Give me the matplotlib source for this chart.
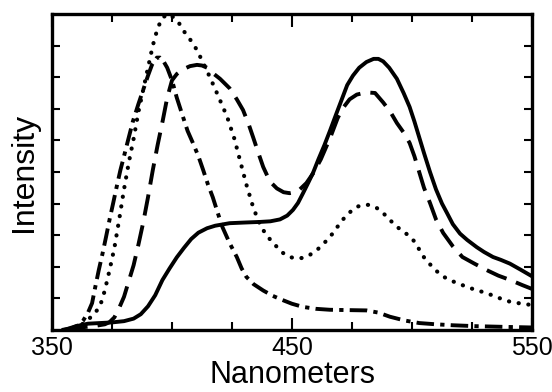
import numpy as np
import matplotlib.pyplot as plt
from matplotlib.ticker import MultipleLocator

plt.rcParams['font.family'] = ['Liberation Sans', 'DejaVu Sans']

# Emission spectra (intensity in arbitrary units, 0-10)
solid_x = [355, 360, 365, 370, 375, 380, 384, 387, 390, 393, 396, 399, 402, 405, 408, 411,
           414.6, 418, 424, 430, 436.7, 441, 445, 448, 450.4, 452.5, 454.6, 456.7, 458.75,
           461, 463.5, 465.8, 468.5, 471, 473, 475.4, 478, 481, 484, 486, 488, 490.5, 493.7,
           496.5, 499, 501, 503, 505, 507.5, 510, 512.5, 514.6, 517, 520, 523, 527, 530,
           533.75, 537, 540.8, 545, 550]
solid_y = [0, 0.12, 0.2, 0.22, 0.24, 0.28, 0.36, 0.5, 0.75, 1.1, 1.58, 1.95, 2.3, 2.6, 2.88, 3.08,
           3.22, 3.3, 3.38, 3.4, 3.42, 3.44, 3.5, 3.62, 3.8, 4.02, 4.33, 4.65, 4.97,
           5.4, 5.85, 6.3, 6.85, 7.35, 7.75, 8.05, 8.3, 8.48, 8.58, 8.58, 8.5, 8.3, 7.95,
           7.5, 7.06, 6.6, 6.1, 5.6, 5.0, 4.45, 4.0, 3.7, 3.35, 3.05, 2.85, 2.62, 2.47,
           2.31, 2.22, 2.1, 1.92, 1.7]

dashed_x = [356, 362, 368, 372, 374, 376, 378, 380, 382, 384, 386, 388, 390, 392, 394, 396.2,
            398, 400, 402, 404.6, 407.5, 410.4, 412.5, 414.6, 417, 420, 424, 427, 429.6, 432,
            433.8, 436, 438, 440.8, 443.7, 446.5, 449, 451, 453, 456, 459, 462, 466, 469, 471,
            474, 477, 481, 484.6, 488, 491, 493.7, 496.5, 499, 501, 503, 505, 507.5, 510, 513,
            517, 521, 526, 531, 536, 541, 546, 550]
dashed_y = [0, 0.08, 0.13, 0.18, 0.25, 0.4, 0.7, 1.05, 1.55, 2.05, 2.7, 3.4, 4.2, 5.06, 5.85, 6.65,
            7.35, 7.9, 8.1, 8.25, 8.35, 8.39, 8.37, 8.3, 8.13, 7.95, 7.65, 7.3, 6.96, 6.5,
            6.1, 5.6, 5.16, 4.7, 4.48, 4.36, 4.33, 4.36, 4.43, 4.65, 4.98, 5.4, 6.1, 6.7, 7.0,
            7.3, 7.45, 7.52, 7.5, 7.2, 6.9, 6.55, 6.25, 5.92, 5.5, 5.0, 4.5, 4.02, 3.5, 3.07,
            2.65, 2.31, 2.1, 1.9, 1.72, 1.58, 1.42, 1.3]

dotted_x = [355, 359, 362, 365, 368, 370, 372, 374, 376, 378, 380, 382, 384, 386, 388, 390, 392,
            394, 396, 398.3, 401, 403, 405, 407.5, 410.4, 413, 415.8, 419, 423, 426, 428.3, 431,
            433.8, 436, 438, 441, 443.7, 446, 449, 451.5, 454.6, 457.5, 460.4, 463, 465.8,
            468.5, 471, 474, 477, 480, 482, 485, 488, 490.8, 494, 497, 499, 501, 503, 505,
            507.5, 510, 513, 517, 521, 526, 531, 536, 541, 546, 550]
dotted_y = [0, 0.05, 0.15, 0.32, 0.55, 0.75, 1.25, 1.9, 2.6, 3.5, 4.45, 5.3, 6.05, 6.9, 7.6, 8.3, 9.0,
            9.55, 9.88, 10.0, 9.88, 9.7, 9.45, 9.2, 8.86, 8.45, 8.0, 7.45, 6.74, 6.05, 5.38, 4.6,
            3.89, 3.45, 3.16, 2.85, 2.63, 2.45, 2.31, 2.27, 2.28, 2.38, 2.53, 2.72, 2.94,
            3.22, 3.48, 3.72, 3.9, 3.96, 3.96, 3.88, 3.7, 3.48, 3.25, 3.08, 2.97, 2.8, 2.55, 2.3,
            2.08, 1.88, 1.69, 1.54, 1.42, 1.28, 1.17, 1.02, 0.89, 0.83, 0.79]

dashdot_x = [354, 358, 361, 363, 365, 366.7, 368, 369.5, 371, 372.5, 374, 375.5, 377, 378.5, 380,
             381.5, 383.7, 386, 388, 390, 391.7, 393.7, 395, 396.5, 398, 400, 402, 404.6, 406.5,
             408.7, 411, 413, 415, 417, 419, 421, 424, 427, 429, 431, 434, 438, 442, 446, 450,
             454.6, 460, 465.8, 473, 481, 486, 490.8, 497, 503, 510, 517, 527, 538, 550]
dashdot_y = [0, 0.05, 0.15, 0.3, 0.55, 0.85, 1.35, 1.9, 2.4, 2.94, 3.5, 4.02, 4.55, 5.06, 5.5,
             5.95, 6.6, 7.15, 7.6, 8.05, 8.4, 8.62, 8.62, 8.5, 8.3, 7.9, 7.35, 6.74, 6.3,
             5.92, 5.5, 5.06, 4.6, 4.2, 3.72, 3.26, 2.75, 2.31, 1.95, 1.68, 1.45, 1.25, 1.08, 0.95, 0.83,
             0.73, 0.67, 0.64, 0.63, 0.62, 0.55, 0.42, 0.3, 0.22, 0.18, 0.15, 0.12, 0.1, 0.08]

fig = plt.figure(figsize=(5.52, 3.92), dpi=100)
ax = fig.add_axes([52 / 552, 62 / 392, 480 / 552, 316 / 392])

lw = 2.8
ax.plot(solid_x, solid_y, color='black', lw=lw, solid_capstyle='round', solid_joinstyle='round')
ax.plot(dashed_x, dashed_y, color='black', lw=lw, linestyle=(0, (5.5, 2.6)), dash_capstyle='butt')
ax.plot(dotted_x, dotted_y, color='black', lw=3.0, linestyle=(0, (0.05, 2.3)), dash_capstyle='round')
ax.plot(dashdot_x, dashdot_y, color='black', lw=lw, linestyle=(0, (4.5, 1.6, 1.1, 1.6)),
        dash_capstyle='butt')

ax.set_xlim(350, 550)
ax.set_ylim(0, 10)
ax.set_xticks([350, 450, 550])
ax.xaxis.set_minor_locator(MultipleLocator(25))
ax.set_yticks(np.arange(1, 10))
ax.set_yticklabels([])
ax.tick_params(which='both', direction='in', top=True, right=True, width=1.5)
ax.tick_params(which='major', axis='x', length=9, labelsize=18, pad=4)
ax.tick_params(which='minor', axis='x', length=6)
ax.tick_params(which='major', axis='y', length=6)
for s in ax.spines.values():
    s.set_linewidth(2.4)

ax.set_xlabel('Nanometers', fontsize=22, labelpad=0)
ax.set_ylabel('Intensity', fontsize=23, labelpad=6)

fig.savefig('out.png', dpi=100)
